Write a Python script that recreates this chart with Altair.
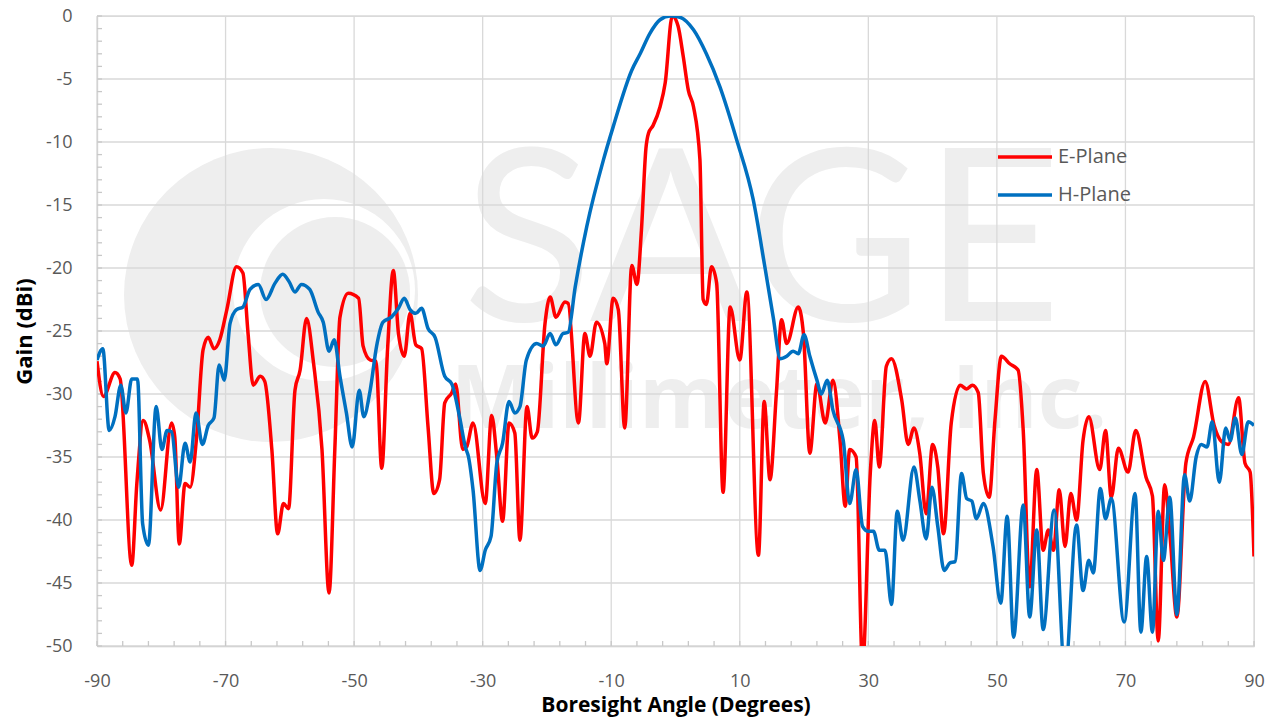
import altair as alt
import pandas as pd

# ---------------- data ----------------
e_angle = [-90, -89.0, -87.2, -86.4, -84.6, -83.8, -82.8, -81.8, -80.1, -78.4, -77.9, -77.2,
           -76.3, -75.5, -74.5, -73.5, -72.7, -71.8, -70.9, -69.8, -68.3, -67.3, -66.5, -65.7,
           -64.6, -63.9, -62.8, -61.9, -61.0, -60.2, -59.2, -58.4, -57.4, -56.3, -55.0, -53.9,
           -53.0, -52.2, -50.9, -49.3, -48.6, -47.5, -46.6, -45.7, -44.8, -43.9, -43.1, -42.2,
           -41.3, -40.4, -39.5, -38.5, -37.6, -36.7, -35.9, -34.8, -34.2, -33.1, -32.5, -31.5,
           -29.6, -28.6, -27.8, -26.9, -25.9, -25.0, -24.2, -23.1, -22.3, -21.5, -20.3, -19.5,
           -18.6, -17.2, -16.7, -15.1, -14.1, -13.3, -12.3, -11.0, -10.7, -9.7, -8.9, -7.9,
           -6.8, -6.0, -5.3, -4.6, -4.2, -3.5, -2.4, -1.6, -0.5, 0.4, 1.2, 2.0, 2.8, 3.8, 4.3,
           4.8, 5.6, 6.4, 7.4, 8.5, 10.0, 11.1, 12.9, 13.8, 14.7, 15.7, 16.5, 17.3, 19.1, 19.9,
           20.9, 22.0, 23.3, 24.5, 25.6, 26.4, 27.1, 28.1, 29.1, 30.3, 31.0, 31.7, 32.8, 33.6,
           35.2, 36.2, 37.1, 38.0, 39.0, 40.0, 40.8, 41.7, 42.9, 44.3, 45.3, 46.2, 47.1, 47.9,
           48.8, 49.7, 50.7, 52.0, 53.3, 54.1, 55.1, 56.2, 57.2, 58.0, 58.8, 59.7, 60.6, 61.5,
           62.4, 63.4, 64.3, 66.0, 66.9, 67.8, 68.9, 70.4, 71.6, 73.2, 74.2, 75.1, 76.1, 76.9,
           78.0, 79.4, 80.6, 82.4, 83.8, 85.0, 86.0, 87.6, 88.6, 89.4, 90]
e_gain = [-27.4, -30.2, -28.3, -28.8, -43.6, -37.1, -32.1, -33.7, -39.2, -32.3, -33.4, -41.9,
          -37.1, -37.4, -33.4, -26.5, -25.5, -26.4, -25.7, -23.3, -19.9, -20.4, -25.2, -29.3,
          -28.6, -29.0, -34.4, -41.1, -38.7, -39.1, -29.7, -28.1, -24.0, -27.6, -34.4, -45.8,
          -34.4, -23.9, -22.0, -22.4, -26.2, -27.3, -27.4, -35.9, -26.5, -20.2, -25.2, -27.0,
          -23.6, -26.1, -26.4, -32.6, -37.9, -36.8, -30.7, -29.9, -29.2, -34.4, -34.2, -32.3,
          -38.7, -31.7, -35.0, -40.1, -32.3, -33.1, -41.6, -31.0, -33.5, -33.0, -24.4, -22.3,
          -23.9, -22.7, -22.8, -32.3, -25.2, -27.0, -24.3, -26.0, -27.6, -22.4, -23.3, -32.7,
          -19.8, -21.3, -17.0, -10.5, -9.3, -8.7, -7.2, -5.3, 0.0, -0.8, -3.2, -5.9, -7.2, -11.4,
          -22.5, -22.9, -19.9, -21.2, -37.8, -23.1, -27.3, -21.9, -42.8, -30.6, -36.8, -29.9,
          -24.1, -26.0, -23.1, -25.2, -34.7, -29.2, -32.3, -28.9, -33.7, -38.9, -34.4, -35.0,
          -51.5, -36.3, -32.1, -35.8, -27.8, -27.2, -30.5, -34.0, -32.7, -34.7, -39.5, -34.0,
          -35.8, -41.1, -32.3, -29.3, -29.6, -29.3, -29.9, -36.3, -38.2, -32.1, -27.0, -27.6,
          -28.1, -32.9, -45.3, -36.0, -42.4, -40.8, -42.4, -37.6, -42.1, -37.9, -40.0, -33.7,
          -31.8, -36.0, -32.9, -38.2, -34.3, -36.2, -32.9, -36.6, -38.1, -49.6, -37.2, -41.0,
          -47.7, -35.5, -33.4, -29.0, -32.5, -33.8, -34.0, -30.3, -35.5, -36.2, -42.9]

h_angle = [-90, -89.1, -88.1, -87.2, -86.3, -85.5, -84.6, -83.7, -82.9, -82.0, -80.8, -79.9,
           -79.1, -78.4, -77.3, -76.3, -75.5, -74.6, -73.6, -72.7, -71.8, -71.0, -70.2, -69.3,
           -68.3, -67.3, -66.2, -64.9, -63.7, -62.3, -61.1, -60.1, -59.2, -58.2, -56.9, -55.6,
           -54.8, -53.9, -53.1, -52.2, -51.2, -50.3, -49.2, -48.5, -47.5, -46.5, -45.5, -44.2,
           -43.1, -42.2, -41.3, -40.4, -39.5, -38.5, -37.4, -35.9, -34.8, -33.6, -32.7, -32.2,
           -31.5, -30.4, -29.6, -28.7, -27.8, -26.9, -25.9, -25.0, -24.2, -23.2, -21.6, -20.6,
           -19.5, -18.6, -17.5, -16.7, -15.6, -13.8, -11.2, -9.7, -6.8, -5.5, -4.0, -2.4, -0.8,
           0.7, 2.8, 4.8, 6.9, 9.5, 12.1, 13.9, 15.2, 16.3, 17.3, 18.3, 19.1, 20.0, 20.9, 22.0,
           22.7, 23.6, 24.5, 26.1, 27.1, 28.1, 29.1, 30.0, 30.8, 31.7, 32.6, 33.6, 34.5, 35.4,
           37.1, 38.0, 39.0, 39.9, 40.8, 41.8, 42.7, 43.5, 44.5, 45.3, 46.1, 46.8, 47.9, 49.4,
           50.6, 51.6, 52.6, 54.1, 55.1, 56.2, 57.2, 58.9, 60.6, 62.4, 63.4, 64.3, 65.0, 66.1,
           66.9, 67.8, 69.8, 71.5, 72.4, 73.3, 74.2, 75.1, 75.9, 76.9, 78.0, 79.2, 80.0, 81.0,
           81.8, 82.7, 83.5, 84.6, 85.6, 86.3, 87.1, 88.1, 89.1, 90]
h_gain = [-27.3, -26.4, -32.9, -31.8, -29.3, -31.5, -28.8, -28.8, -40.3, -42.0, -31.0, -34.4,
          -32.9, -33.0, -37.4, -33.9, -35.4, -31.5, -34.0, -32.5, -31.9, -27.7, -28.9, -24.4,
          -23.3, -23.1, -21.7, -21.3, -22.5, -21.2, -20.5, -21.1, -21.9, -21.3, -21.7, -23.5,
          -24.3, -26.6, -25.7, -28.6, -31.5, -34.2, -29.7, -31.8, -29.7, -26.2, -24.3, -23.9,
          -23.2, -22.4, -23.3, -23.6, -23.2, -24.8, -25.5, -28.6, -29.2, -31.8, -34.2, -35.0,
          -37.6, -44.0, -42.4, -41.3, -35.5, -33.9, -30.6, -31.5, -31.0, -27.3, -26.0, -26.2,
          -25.2, -26.1, -25.2, -25.1, -21.5, -16.7, -11.4, -8.8, -4.3, -3.0, -1.4, -0.3, 0.0,
          -0.1, -1.1, -3.0, -5.6, -9.8, -14.6, -19.9, -23.9, -27.2, -27.0, -26.6, -26.8, -25.3,
          -27.0, -28.9, -30.0, -28.9, -31.3, -33.7, -38.7, -36.0, -40.5, -40.9, -40.9, -42.4,
          -42.4, -46.7, -39.3, -41.6, -35.8, -38.4, -41.5, -37.4, -40.5, -44.0, -43.4, -43.3,
          -36.3, -38.3, -38.5, -39.9, -38.7, -42.1, -46.6, -39.7, -49.3, -38.8, -47.7, -40.8,
          -48.7, -39.2, -52.0, -40.4, -45.6, -43.2, -44.2, -37.5, -39.9, -38.3, -48.1, -37.9,
          -48.9, -42.9, -48.9, -39.3, -43.2, -38.2, -47.5, -36.4, -38.5, -35.0, -34.0, -34.2,
          -32.2, -37.0, -32.7, -33.7, -31.9, -34.8, -32.2, -32.5]

series_names = ["E-Plane", "H-Plane"]
series_colors = ["#FF0000", "#0070C0"]

x_major = list(range(-90, 91, 20))
y_major = list(range(-50, 1, 5))
x_minor = list(range(-90, 91, 4))
y_minor = list(range(-50, 1, 1))

x_title = "Boresight Angle (Degrees)"
y_title = "Gain (dBi)"

# ---------------- build tables ----------------
df = pd.concat([
    pd.DataFrame({"angle": e_angle, "gain": e_gain, "series": series_names[0]}),
    pd.DataFrame({"angle": h_angle, "gain": h_gain, "series": series_names[1]}),
], ignore_index=True)

W, H = 1157, 630
FONT = "Open Sans"
GRID = "#D9D9D9"
WM = "#EEEEEE"

xscale = alt.Scale(domain=[-90, 90], nice=False, zero=False)
yscale = alt.Scale(domain=[-50, 0], nice=False, zero=False)

x_axis = alt.Axis(values=x_major, grid=False, ticks=False, tickSize=0,
                  labelExpr="'' + datum.value", labelFlush=False, labelOverlap=False,
                  labelFont=FONT, labelFontSize=18, labelColor="#595959",
                  labelPadding=26, domainColor="#C8C8C8", domainWidth=1.3,
                  title=x_title, titleFont=FONT, titleFontSize=21,
                  titleFontWeight="bold", titleColor="black", titlePadding=4)
y_axis = alt.Axis(values=y_major, grid=False, ticks=False, tickSize=0,
                  labelExpr="'' + datum.value", labelOverlap=False, labelFlush=False,
                  labelFont=FONT, labelFontSize=18, labelColor="#595959",
                  labelPadding=25, domainColor="#C8C8C8", domainWidth=1.3,
                  title=y_title, titleFont=FONT, titleFontSize=22,
                  titleFontWeight="bold", titleColor="black", titlePadding=9)

X = lambda: alt.X("angle:Q", scale=xscale, axis=x_axis)
Y = lambda: alt.Y("gain:Q", scale=yscale, axis=y_axis)

one = pd.DataFrame({"k": [0]})

# watermark (logo + company name), drawn behind everything
wm_outer = alt.Chart(one).mark_circle(color=WM, opacity=1).encode(
    x=alt.value(174), y=alt.value(279), size=alt.value(294 * 294))
wm_gap = alt.Chart(one).mark_circle(color="white", opacity=1).encode(
    x=alt.value(227), y=alt.value(274), size=alt.value(182 * 182))
wm_inner = alt.Chart(one).mark_circle(color=WM, opacity=1).encode(
    x=alt.value(238), y=alt.value(276), size=alt.value(150 * 150))
wm_sage = alt.Chart(one).mark_text(
    text="SAGE", font="Lato", fontWeight="normal", fontSize=240, color=WM,
    align="center", baseline="alphabetic").encode(x=alt.value(665), y=alt.value(305))
wm_mm = alt.Chart(one).mark_text(
    text="Millimeter, Inc.", font=FONT, fontWeight="bold", fontSize=87, color=WM,
    align="center", baseline="alphabetic").encode(x=alt.value(682), y=alt.value(412))

# gridlines
vgrid = alt.Chart(pd.DataFrame({"angle": x_major})).mark_rule(
    color=GRID, strokeWidth=1.3).encode(x=X())
hgrid = alt.Chart(pd.DataFrame({"gain": y_major})).mark_rule(
    color=GRID, strokeWidth=1.3).encode(y=Y())

# minor tick marks (inside)
xticks = alt.Chart(pd.DataFrame({"angle": x_minor})).mark_rule(
    color="#C8C8C8", strokeWidth=1.3).encode(x=X(), y=alt.value(H), y2=alt.value(H - 5))
yticks = alt.Chart(pd.DataFrame({"gain": y_minor})).mark_rule(
    color="#C8C8C8", strokeWidth=1.3).encode(y=Y(), x=alt.value(0), x2=alt.value(5))

lines = alt.Chart(df).mark_line(strokeWidth=3.5, interpolate="monotone", clip=True).encode(
    x=X(),
    y=Y(),
    color=alt.Color("series:N",
                    scale=alt.Scale(domain=series_names, range=series_colors),
                    legend=alt.Legend(title=None, orient="none", legendX=911, legendY=124,
                                      symbolType="M-1.8,0H1.8", symbolSize=900,
                                      symbolStrokeWidth=3.5, labelOffset=16,
                                      labelFont=FONT, labelFontSize=20,
                                      labelColor="#595959", rowPadding=11, padding=0)),
    order=alt.Order("angle:Q"),
)

chart = alt.layer(
    wm_outer, wm_gap, wm_inner, wm_sage, wm_mm,
    vgrid, hgrid, xticks, yticks, lines,
).properties(
    width=W, height=H,
    autosize=alt.AutoSizeParams(type="none"),
    padding={"left": 89, "top": 8, "right": 14, "bottom": 71},
).configure_view(stroke=None).configure(background="white")

chart.save("out.html", embed_options={"renderer": "svg", "actions": False})
